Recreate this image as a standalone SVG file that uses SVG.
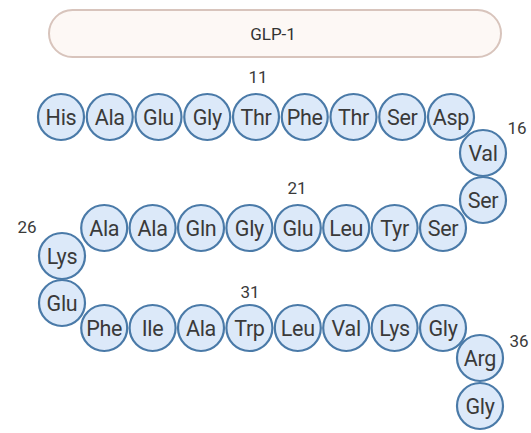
<svg xmlns="http://www.w3.org/2000/svg" width="531" height="433" viewBox="0 0 531 433">
<style>
.res circle{fill:#dce9f9;stroke:#4a7aa8;stroke-width:2.2}
.res text{font-family:Roboto,"Liberation Sans",sans-serif;font-size:21.5px;fill:#3a3a3a;text-anchor:middle;dominant-baseline:central;letter-spacing:-0.3px}
.num{font-family:Roboto,"Liberation Sans",sans-serif;font-size:17px;fill:#3a3a3a;text-anchor:middle;dominant-baseline:central}
.title rect{fill:#fdf8f5;stroke:#d8c4bc;stroke-width:2}
.title text{font-family:Roboto,"Liberation Sans",sans-serif;font-size:17px;fill:#333;text-anchor:middle;dominant-baseline:central}
</style>
<g id="title" class="title"><rect x="49" y="10" width="452" height="47" rx="23.5"/><text x="273" y="34">GLP-1</text></g>
<g id="labels">
<text class="num" x="258" y="77">11</text>
<text class="num" x="517" y="128">16</text>
<text class="num" x="297" y="188">21</text>
<text class="num" x="27" y="227">26</text>
<text class="num" x="250" y="292">31</text>
<text class="num" x="519" y="341">36</text>
</g>
<g id="connectors"></g>
<g id="r1" class="res"><circle cx="61" cy="117" r="23"/><text x="61" y="117">His</text></g>
<g id="r2" class="res"><circle cx="109.75" cy="117" r="23"/><text x="109.75" y="117">Ala</text></g>
<g id="r3" class="res"><circle cx="158.5" cy="117" r="23"/><text x="158.5" y="117">Glu</text></g>
<g id="r4" class="res"><circle cx="207.25" cy="117" r="23"/><text x="207.25" y="117">Gly</text></g>
<g id="r5" class="res"><circle cx="256" cy="117" r="23"/><text x="256" y="117">Thr</text></g>
<g id="r6" class="res"><circle cx="304.75" cy="117" r="23"/><text x="304.75" y="117">Phe</text></g>
<g id="r7" class="res"><circle cx="353.5" cy="117" r="23"/><text x="353.5" y="117">Thr</text></g>
<g id="r8" class="res"><circle cx="402.25" cy="117" r="23"/><text x="402.25" y="117">Ser</text></g>
<g id="r9" class="res"><circle cx="451" cy="117" r="23"/><text x="451" y="117">Asp</text></g>
<g id="r10" class="res"><circle cx="483" cy="153" r="23"/><text x="483" y="153">Val</text></g>
<g id="r11" class="res"><circle cx="483" cy="200" r="23"/><text x="483" y="200">Ser</text></g>
<g id="r12" class="res"><circle cx="443" cy="228" r="23"/><text x="443" y="228">Ser</text></g>
<g id="r13" class="res"><circle cx="394.6" cy="228" r="23"/><text x="394.6" y="228">Tyr</text></g>
<g id="r14" class="res"><circle cx="346.2" cy="228" r="23"/><text x="346.2" y="228">Leu</text></g>
<g id="r15" class="res"><circle cx="297.8" cy="228" r="23"/><text x="297.8" y="228">Glu</text></g>
<g id="r16" class="res"><circle cx="249.4" cy="228" r="23"/><text x="249.4" y="228">Gly</text></g>
<g id="r17" class="res"><circle cx="201" cy="228" r="23"/><text x="201" y="228">Gln</text></g>
<g id="r18" class="res"><circle cx="152.6" cy="228" r="23"/><text x="152.6" y="228">Ala</text></g>
<g id="r19" class="res"><circle cx="104.2" cy="228" r="23"/><text x="104.2" y="228">Ala</text></g>
<g id="r20" class="res"><circle cx="62" cy="256" r="23"/><text x="62" y="256">Lys</text></g>
<g id="r21" class="res"><circle cx="62" cy="303" r="23"/><text x="62" y="303">Glu</text></g>
<g id="r22" class="res"><circle cx="104.2" cy="328" r="23"/><text x="104.2" y="328">Phe</text></g>
<g id="r23" class="res"><circle cx="152.6" cy="328" r="23"/><text x="152.6" y="328">Ile</text></g>
<g id="r24" class="res"><circle cx="201" cy="328" r="23"/><text x="201" y="328">Ala</text></g>
<g id="r25" class="res"><circle cx="249.4" cy="328" r="23"/><text x="249.4" y="328">Trp</text></g>
<g id="r26" class="res"><circle cx="297.8" cy="328" r="23"/><text x="297.8" y="328">Leu</text></g>
<g id="r27" class="res"><circle cx="346.2" cy="328" r="23"/><text x="346.2" y="328">Val</text></g>
<g id="r28" class="res"><circle cx="394.6" cy="328" r="23"/><text x="394.6" y="328">Lys</text></g>
<g id="r29" class="res"><circle cx="443" cy="328" r="23"/><text x="443" y="328">Gly</text></g>
<g id="r30" class="res"><circle cx="480" cy="358" r="23"/><text x="480" y="358">Arg</text></g>
<g id="r31" class="res"><circle cx="480" cy="406" r="23"/><text x="480" y="406">Gly</text></g>
</svg>
